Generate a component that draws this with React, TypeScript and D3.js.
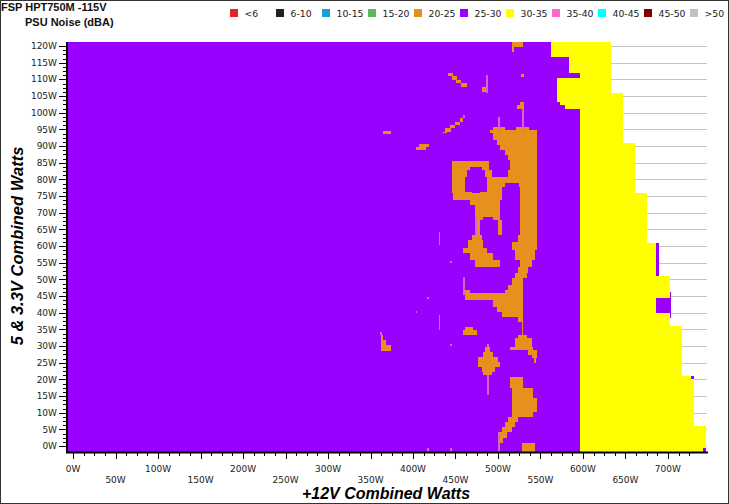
import React from 'react';
import * as d3 from 'd3';

const WIDTH = 729;
const HEIGHT = 504;

const titleText = 'FSP HPT750M -115V';
const subtitleText = 'PSU Noise (dBA)';
const xTitle = '+12V Combined Watts';
const yTitle = '5 & 3.3V Combined Watts';

const bandLabels = ['<6', '6-10', '10-15', '15-20', '20-25', '25-30', '30-35', '35-40', '40-45', '45-50', '>50'];
const bandColors = ['#e02424', '#222222', '#169fd4', '#5cb85c', '#e8901e', '#9900ff', '#ffff00', '#ff66cc', '#00ffff', '#800000', '#c0c0c0'];

const xTickValues = [0, 50, 100, 150, 200, 250, 300, 350, 400, 450, 500, 550, 600, 650, 700];
const yTickValues = [0, 5, 10, 15, 20, 25, 30, 35, 40, 45, 50, 55, 60, 65, 70, 75, 80, 85, 90, 95, 100, 105, 110, 115, 120];

// 25-30 dBA region: [yLow, yHigh, xEnd] in watts (starts at left edge)
const purpleRows: [number, number, number][] = [
  [116.7, 121.2, 562.4],
  [111.9, 116.7, 583.6],
  [110.4, 111.9, 596.5],
  [103.3, 110.4, 569.5],
  [102.3, 103.3, 573],
  [101.1, 102.3, 578.9],
  [-1.6, 101.1, 597],
];

// 30-35 dBA region: [yLow, yHigh, xEnd]
const yellowRows: [number, number, number][] = [
  [106, 121.2, 633],
  [91, 106, 647],
  [76, 91, 661.3],
  [61, 76, 675],
  [51, 61, 689.2],
  [36, 51, 702.5],
  [21, 36, 716.5],
  [6, 21, 730.8],
  [-1.6, 6, 744.8],
];

// 25-30 dBA pockets inside the 30-35 region: [yLow, yHigh, xLow, xHigh]
const purplePockets: [number, number, number, number][] = [
  [51, 61, 685.6, 689.2],
  [40, 44.5, 685.6, 702.5],
  [38.4, 46.2, 702.5, 704],
  [20, 21, 727.2, 730.8],
  [-1.6, -0.6, 741.3, 744.8],
];

// 20-25 dBA cells: [yLow, yHigh, xLow, xHigh]
const orangeCells: [number, number, number, number][] = [
  [119.8, 121.2, 516.2, 529.9],
  [118.3, 119.8, 516.2, 518.9],
  [110.9, 111.9, 441, 447],
  [109.9, 110.9, 446, 452],
  [108.9, 109.9, 451, 457],
  [107.7, 108.9, 456, 464],
  [106.3, 107.8, 480.9, 488.3],
  [110.7, 111.6, 527, 530.5],
  [102.3, 103.3, 525.7, 530.7],
  [101, 102.3, 522.1, 530.7],
  [97.3, 98.3, 455, 459],
  [96.3, 97.3, 450, 455],
  [95.3, 96.3, 444, 450],
  [94.3, 95.3, 438, 445],
  [93.8, 94.3, 435, 440],
  [93.6, 94.6, 364.4, 374.1],
  [89.8, 90.6, 407.4, 418.9],
  [88.8, 89.8, 403.6, 415.3],
  [94.8, 95.8, 494.5, 508.3],
  [94.8, 95.8, 521.3, 536.9],
  [93.8, 94.8, 490.6, 545.6],
  [91.8, 93.8, 494.5, 545.6],
  [90.3, 91.8, 498.5, 545.6],
  [88.8, 90.3, 502.4, 545.6],
  [87.3, 88.8, 508.3, 545.6],
  [85.8, 87.3, 512.2, 545.6],
  [83.8, 85.8, 514.2, 545.6],
  [83.8, 85.6, 445.6, 489.8],
  [82.8, 83.8, 445.6, 467.1],
  [82.8, 83.8, 480.9, 489.8],
  [82.8, 83.8, 514.2, 545.6],
  [80.8, 82.8, 445.6, 463.2],
  [80.8, 82.8, 484.8, 492.6],
  [80.8, 82.8, 512.2, 545.6],
  [78.8, 80.8, 445.6, 461.2],
  [78.8, 80.8, 486.8, 545.6],
  [77.8, 78.8, 445.6, 461.2],
  [77.8, 78.8, 486.8, 508.3],
  [77.8, 78.8, 524.4, 545.6],
  [76.3, 77.8, 445.6, 461.2],
  [76.3, 77.8, 486.8, 504.4],
  [76.3, 77.8, 526, 545.6],
  [75.8, 76.3, 445.6, 469],
  [75.8, 76.3, 479, 504.4],
  [75.8, 76.3, 526, 545.6],
  [73.8, 75.8, 447.5, 504.4],
  [73.8, 75.8, 526, 545.6],
  [72.3, 73.8, 467.1, 502.4],
  [72.3, 73.8, 526, 545.6],
  [68.8, 72.3, 473, 502.4],
  [68.8, 72.3, 526, 545.6],
  [67.8, 68.8, 475, 482.8],
  [67.8, 68.8, 494.5, 502.4],
  [67.8, 68.8, 526, 545.6],
  [63.3, 67.8, 475, 478.9],
  [63.3, 67.8, 500.4, 504.4],
  [63.3, 67.8, 526, 545.6],
  [61.8, 63.3, 469.1, 480.9],
  [59.3, 61.8, 465.1, 482.8],
  [57.8, 59.3, 459.3, 486.8],
  [55.8, 57.8, 467.1, 494.5],
  [53.8, 55.8, 473, 502.4],
  [61.3, 63.3, 524, 545.6],
  [58.8, 61.3, 516.2, 545.6],
  [55.8, 58.8, 520.1, 543.6],
  [53.8, 55.8, 526, 539.7],
  [51.8, 53.8, 524, 535.8],
  [50.3, 51.8, 520.1, 533.9],
  [48.3, 50.3, 516.2, 529.9],
  [46.8, 48.3, 512.2, 529.9],
  [45.8, 46.8, 508.3, 529.9],
  [45.3, 46.8, 461.2, 467],
  [43.8, 45.8, 461.2, 529.9],
  [41.8, 43.8, 494.5, 529.9],
  [40.3, 41.8, 498.5, 529.9],
  [38.8, 40.3, 504.4, 529.9],
  [37.3, 38.8, 524, 529.9],
  [33.3, 37.3, 528, 529.9],
  [34.8, 35.8, 461.2, 471],
  [33.3, 34.8, 459.3, 475],
  [32.3, 33.3, 524, 533.9],
  [29.8, 32.3, 520.1, 539.7],
  [28.8, 29.8, 514.2, 541.6],
  [27.3, 28.8, 535.8, 545.6],
  [26.3, 27.3, 539.7, 545.6],
  [24.8, 26.3, 542.4, 544.8],
  [28.3, 29.8, 484.8, 490.6],
  [26.8, 28.3, 482.8, 494.5],
  [25.3, 26.8, 476.9, 500.4],
  [23.8, 25.3, 476.9, 502.4],
  [22.3, 23.8, 480.9, 496.5],
  [21.3, 22.3, 482.8, 492.6],
  [17.3, 20.8, 514.2, 529.9],
  [14.3, 17.3, 516.2, 541.6],
  [10.3, 14.3, 516.2, 545.6],
  [8.8, 10.3, 516.2, 541.6],
  [7.3, 8.8, 512.2, 524],
  [5.8, 7.3, 508.3, 520.1],
  [4.3, 5.8, 504.4, 516.2],
  [2.3, 4.3, 502.4, 510.3],
  [0.8, 2.3, 500.4, 506.3],
  [-1.6, 0.8, 528, 543.6],
  [31.8, 33.3, 362, 364.5],
  [30.3, 31.8, 362, 368],
  [28.6, 30.3, 362.5, 374],
];

// thin transition cells (between 20-25 and 25-30): [yLow, yHigh, xLow, xHigh]
const edgeCells: [number, number, number, number][] = [
  [105.9, 111.3, 486.5, 488.5],
  [94.8, 101, 528.3, 530.5],
  [94.8, 98.7, 500.5, 502],
  [98.3, 99.3, 459, 461],
  [60.3, 64.2, 430.5, 432.3],
  [55, 55.6, 444, 446],
  [45.3, 50.7, 459.3, 461.2],
  [44.1, 44.7, 417, 419],
  [40, 40.6, 403, 405],
  [34.8, 39.3, 430.5, 432.3],
  [33.3, 34.3, 361, 363],
  [30, 30.6, 444, 446],
  [29.8, 30.6, 487, 489],
  [15.3, 21.3, 487, 489.5],
  [-1.6, 4.3, 500.4, 502],
  [-1.6, -0.6, 417, 419],
  [-1.6, -0.6, 444, 446],
  [63.3, 68.8, 473.5, 475],
];

const edgeColor = '#d168c6';

export default function App() {
  const xs = d3.scaleLinear().domain([-6, 746]).range([68, 707]);
  const ys = d3.scaleLinear().domain([-1.6, 121.2]).range([451.5, 42]);
  const xMin = -6;

  const rect = (c: [number, number, number, number], fill: string, key: string) => (
    <rect
      key={key}
      x={xs(c[2])}
      y={ys(c[1])}
      width={xs(c[3]) - xs(c[2])}
      height={ys(c[0]) - ys(c[1])}
      fill={fill}
      shapeRendering="crispEdges"
    />
  );

  const xMinor = d3.range(0, 737.5, 12.5);
  const yMinor = d3.range(0, 121.25, 1.25);

  const tickFont = { fontFamily: '"DejaVu Sans", Verdana, sans-serif', fontSize: 9, fill: '#222' } as const;

  return (
    <svg
      width={WIDTH}
      height={HEIGHT}
      style={{ position: 'absolute', left: 0, top: 0, display: 'block', background: '#fff' }}
    >
      <rect x={0} y={0} width={WIDTH} height={HEIGHT} fill="#fff" />
      {/* grid lines */}
      {yTickValues.map((v) => (
        <line key={'g' + v} x1={68} x2={707} y1={Math.round(ys(v)) + 0.5} y2={Math.round(ys(v)) + 0.5} stroke="#c4c4c4" strokeWidth={1} />
      ))}
      {/* heat cells */}
      {yellowRows.map((r, i) => rect([r[0], r[1], 540, r[2]], bandColors[6], 'y' + i))}
      {purpleRows.map((r, i) => rect([r[0], r[1], xMin, r[2]], bandColors[5], 'p' + i))}
      {purplePockets.map((c, i) => rect(c, bandColors[5], 'pp' + i))}
      {orangeCells.map((c, i) => rect(c, bandColors[4], 'o' + i))}
      {edgeCells.map((c, i) => rect(c, edgeColor, 'e' + i))}

      {/* axes */}
      <line x1={67} x2={67} y1={42} y2={453} stroke="#000" strokeWidth={2} />
      <line x1={66} x2={708} y1={452.5} y2={452.5} stroke="#000" strokeWidth={2} />
      {yMinor.map((v) => {
        const major = Math.abs(v % 5) < 1e-6;
        const y = Math.round(ys(v)) + 0.5;
        return <line key={'ym' + v} x1={major ? 59 : 63} x2={66} y1={y} y2={y} stroke="#000" strokeWidth={1} />;
      })}
      {xMinor.map((v) => {
        const major = Math.abs(v % 50) < 1e-6;
        const x = Math.round(xs(v)) + 0.5;
        return <line key={'xm' + v} x1={x} x2={x} y1={453} y2={major ? 459 : 456} stroke="#000" strokeWidth={1} />;
      })}
      {yTickValues.map((v) => (
        <text key={'yl' + v} x={57} y={ys(v)} dy="0.35em" textAnchor="end" {...tickFont}>
          {v + 'W'}
        </text>
      ))}
      {xTickValues.map((v, i) => (
        <text key={'xl' + v} x={xs(v)} y={i % 2 === 0 ? 471.5 : 482.5} textAnchor="middle" {...tickFont}>
          {v + 'W'}
        </text>
      ))}

      {/* titles */}
      <text x={1} y={11} fontFamily='"Liberation Sans", Arial, sans-serif' fontWeight="bold" fontSize={11} fill="#111">
        {titleText}
      </text>
      <text x={25} y={26} fontFamily='"Liberation Sans", Arial, sans-serif' fontWeight="bold" fontSize={11} fill="#111">
        {subtitleText}
      </text>
      <text x={386} y={499} textAnchor="middle" fontFamily='"Liberation Sans", Arial, sans-serif' fontWeight="bold" fontStyle="italic" fontSize={16} fill="#000">
        {xTitle}
      </text>
      <text
        transform="translate(23,246) rotate(-90)"
        textAnchor="middle"
        fontFamily='"Liberation Sans", Arial, sans-serif'
        fontWeight="bold"
        fontStyle="italic"
        fontSize={16.5}
        fill="#000"
      >
        {yTitle}
      </text>

      {/* legend */}
      {bandLabels.map((lab, i) => {
        const x0 = 230 + i * 46;
        return (
          <g key={'lg' + i}>
            <rect x={Math.round(x0)} y={9} width={8} height={8} fill={bandColors[i]} shapeRendering="crispEdges" />
            <text x={x0 + 14.5} y={16.5} fontFamily='"DejaVu Sans", Verdana, sans-serif' fontSize={9.3} fill="#222">
              {lab}
            </text>
          </g>
        );
      })}

      <rect x={0.5} y={0.5} width={WIDTH - 1} height={HEIGHT - 1} fill="none" stroke="#333" strokeWidth={1} />
    </svg>
  );
}
